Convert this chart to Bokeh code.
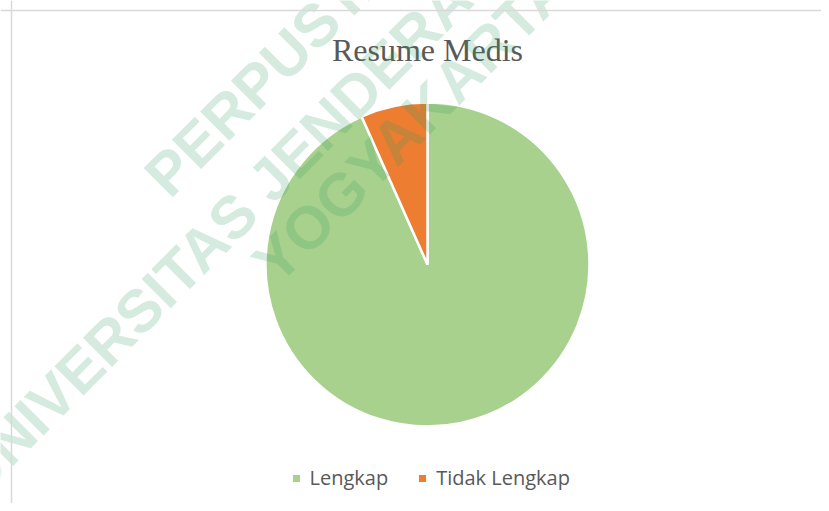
import numpy as np
from bokeh.plotting import figure
from bokeh.models import Range1d, Span, Legend, LegendItem, ColumnDataSource
from bokeh.core.properties import value
from bokeh.embed import file_html
from bokeh.resources import INLINE

# ---- data ----
categories = ["Lengkap", "Tidak Lengkap"]
counts = [28, 2]
colors = ["#A9D18E", "#ED7D31"]
title_text = "Resume Medis"
watermark_lines = ["PERPUSTAKAAN", "UNIVERSITAS JENDERAL ACHMAD YANI", "YOGYAKARTA"]

# ---- layout (screen-pixel based data space) ----
W, H = 821, 503


def sy(y_screen):
    return H - y_screen


p = figure(width=W, height=H, x_range=Range1d(0, W), y_range=Range1d(0, H),
           x_axis_type=None, y_axis_type=None, output_backend="svg",
           toolbar_location=None, min_border=0)
p.grid.visible = False
p.outline_line_color = None
p.background_fill_color = "white"
p.border_fill_color = "white"

# chart border (top and left visible part)
p.add_layout(Span(location=sy(10), dimension="width", line_color="#d9d9d9", line_width=1.5))
p.add_layout(Span(location=11, dimension="height", line_color="#d9d9d9", line_width=1.5))

# ---- pie ----
vals = np.array(counts, dtype=float)
frac = vals / vals.sum()
cum = np.concatenate([[0.0], np.cumsum(frac)])
start = np.pi / 2 - 2 * np.pi * cum[:-1]
end = np.pi / 2 - 2 * np.pi * cum[1:]
src = ColumnDataSource(dict(cat=categories, start=start, end=end, color=colors))

cx, cy, rad = 427, sy(264), 162
r = p.wedge(x=cx, y=cy, radius=rad, start_angle="start", end_angle="end",
            direction="clock", fill_color="color", line_color="white",
            line_width=2.5, source=src)

# ---- title ----
p.text(x=[cx], y=[sy(49)], text=[title_text], text_align="center",
       text_baseline="middle", text_font=value("Liberation Serif"),
       text_font_size="32px", text_color="#595959")

# ---- watermark ----
wm_x = [155, -35.5, 263]
wm_y = [sy(185), sy(484.5), sy(271.7)]
p.text(x=wm_x, y=wm_y, text=watermark_lines, angle=np.pi / 4,
       text_align="left", text_baseline="middle",
       text_font=value("Liberation Sans"), text_font_style="bold",
       text_font_size="60px", text_color="#2e9a5e", text_alpha=0.2)

# ---- legend ----
legend = Legend(items=[LegendItem(label=c, renderers=[r], index=i) for i, c in enumerate(categories)],
                orientation="horizontal", location=(289.5, 12),
                glyph_width=12, glyph_height=12, label_standoff=8,
                spacing=28, padding=0, margin=0,
                border_line_color=None, background_fill_alpha=0,
                label_text_font="Open Sans", label_text_font_size="20px",
                label_text_color="#595959")
p.add_layout(legend)

open("out.html", "w").write(file_html(p, INLINE))
